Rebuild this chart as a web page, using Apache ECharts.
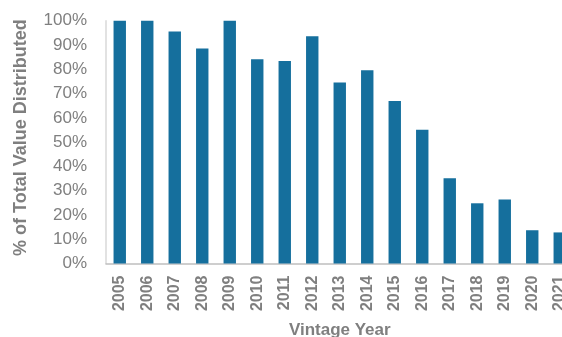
<!DOCTYPE html>
<html>
<head>
<meta charset="utf-8">
<script src="https://cdn.jsdelivr.net/npm/echarts@6/dist/echarts.min.js"></script>
<style>html,body{margin:0;padding:0;background:#fff}#c{width:562px;height:337px}</style>
</head>
<body>
<div id="c"></div>
<script>
const years = ['2005','2006','2007','2008','2009','2010','2011','2012','2013','2014','2015','2016','2017','2018','2019','2020','2021'];
const distributed = [100, 100, 95.6, 88.6, 100, 84.1, 83.4, 93.6, 74.5, 79.6, 66.9, 55.1, 35.1, 24.8, 26.4, 13.7, 12.8];
const yTicks = { min: 0, max: 100, interval: 10 };

const chart = echarts.init(document.getElementById('c'), null, { renderer: 'canvas' });
const font = '"Liberation Sans", Arial, sans-serif';
chart.setOption({
  animation: false,
  grid: { left: 106, right: -11.5, top: 20.7, bottom: 73.5, containLabel: false, outerBoundsMode: 'none' },
  xAxis: {
    type: 'category',
    data: years,
    axisLine: { show: true, lineStyle: { color: '#bfbfbf', width: 1.5 } },
    axisTick: { show: false },
    axisLabel: { rotate: 90, margin: 12, color: '#7f7f7f', fontSize: 16, fontWeight: 'bold', fontFamily: font, interval: 0 },
    name: 'Vintage Year',
    nameLocation: 'middle',
    nameGap: 58,
    nameTextStyle: { color: '#7f7f7f', fontSize: 17, fontWeight: 'bold', fontFamily: font }
  },
  yAxis: {
    type: 'value',
    min: yTicks.min, max: yTicks.max, interval: yTicks.interval,
    axisLine: { show: true, lineStyle: { color: '#d9d9d9', width: 1.5 } },
    axisTick: { show: false },
    splitLine: { show: false },
    axisLabel: { formatter: '{value}%', color: '#7f7f7f', fontSize: 17, fontFamily: font, margin: 19 },
    name: '% of Total Value Distributed',
    nameLocation: 'middle',
    nameGap: 76,
    nameTextStyle: { color: '#7f7f7f', fontSize: 18, fontWeight: 'bold', fontFamily: font, padding: [0, 0, 0, 9] }
  },
  series: [{
    type: 'bar',
    data: distributed,
    barWidth: 12.4,
    itemStyle: { color: '#156f9d' }
  }]
});
</script>
</body>
</html>
